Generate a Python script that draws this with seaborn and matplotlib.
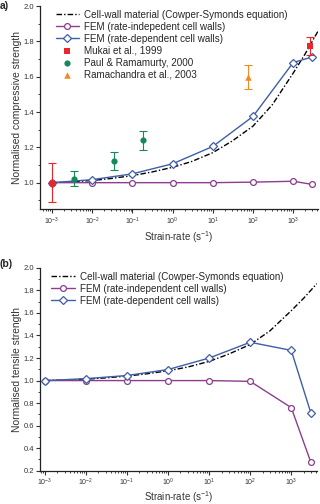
import numpy as np
import pandas as pd
import seaborn as sns
import matplotlib
matplotlib.use("Agg")
from matplotlib import pyplot as plt
from matplotlib.ticker import LogLocator, MultipleLocator, NullFormatter

# strain rates of the FEM runs
fem_rate = [1e-3, 1e-2, 1e-1, 1e0, 1e1, 1e2, 1e3, 3e3]

# (a) compression
comp_indep = [1.0, 1.0, 1.0, 1.0, 1.0, 1.003, 1.008, 0.99]
comp_dep = [1.0, 1.017, 1.05, 1.107, 1.205, 1.375, 1.68, 1.712]

# (b) tension
tens_indep = [1.0, 1.0, 1.0, 1.0, 1.0, 0.993, 0.76, 0.275]
tens_dep = [1.0, 1.017, 1.045, 1.098, 1.2, 1.34, 1.268, 0.713]

# Cowper-Symonds curve
cs_rate = [1e-3, 3e-3, 1e-2, 3e-2, 1e-1, 3e-1, 1e0, 3e0, 1e1, 3e1, 1e2, 3e2, 1e3, 2e3, 4.2e3]
cs_val = [1.0, 1.005, 1.012, 1.024, 1.04, 1.06, 1.087, 1.12, 1.17, 1.235, 1.32, 1.44, 1.62, 1.73, 1.86]

# experiments (compression only)
mukai_rate = [2.7e3]
mukai_val = [1.775]
mukai_err = [0.05]
mukai_qs_rate = [1e-3]
mukai_qs_val = [1.0]
mukai_qs_err = [0.11]
paul_rate = [3.5e-3, 3.5e-2, 1.8e-1]
paul_val = [1.022, 1.122, 1.24]
paul_err = [0.042, 0.053, 0.055]
rama_rate = [75]
rama_val = [1.60]
rama_err = [0.068]

PURPLE = "#8c3d8e"
BLUE = "#3f5ea8"
RED = "#e8262b"
GREEN = "#14895a"
ORANGE = "#f08a24"

sns.set_theme(style="ticks")
plt.rcParams["font.family"] = ["Liberation Sans", "DejaVu Sans"]
plt.rcParams["mathtext.fontset"] = "custom"
plt.rcParams["mathtext.rm"] = "Liberation Sans"

fig = plt.figure(figsize=(3.2, 5.04), dpi=100)
ax1 = fig.add_axes([0.125, 0.585, 0.869, 0.403])
ax2 = fig.add_axes([0.125, 0.066, 0.866, 0.4025])


def style_axis(ax, ylim, xlim, major):
    ax.set_xscale("log")
    ax.set_xlim(*xlim)
    ax.set_ylim(*ylim)
    ax.xaxis.set_minor_locator(LogLocator(base=10, subs=np.arange(2, 10), numticks=20))
    ax.xaxis.set_minor_formatter(NullFormatter())
    ax.set_xticks([1e-3, 1e-2, 1e-1, 1e0, 1e1, 1e2, 1e3])
    ax.set_xticklabels([r"$10^{-3}$", r"$10^{-2}$", r"$10^{-1}$", r"$10^{0}$",
                        r"$10^{1}$", r"$10^{2}$", r"$10^{3}$"])
    ax.yaxis.set_major_locator(MultipleLocator(major))
    ax.yaxis.set_minor_locator(MultipleLocator(major / 2))
    ax.tick_params(axis="both", which="major", direction="out", length=3, width=0.8,
                   labelsize=5.5, pad=1.5, colors="#333333")
    ax.tick_params(axis="x", which="major", labelsize=5)
    ax.tick_params(axis="both", which="minor", direction="out", length=1.6, width=0.6)
    for s in ["left", "bottom"]:
        ax.spines[s].set_linewidth(0.9)
        ax.spines[s].set_color("#222222")
    sns.despine(ax=ax)
    ax.set_xlabel("Strain-rate (s$^{-1}$)", fontsize=7, labelpad=2, color="#333333")


def fem_lines(ax, indep, dep, indep_label):
    df = pd.DataFrame({"rate": fem_rate + fem_rate,
                       "val": indep + dep,
                       "model": ["indep"] * len(indep) + ["dep"] * len(dep)})
    sns.lineplot(data=df[df.model == "indep"], x="rate", y="val", ax=ax, color=PURPLE,
                 lw=1.0, marker="o", markersize=4.2, markerfacecolor="white",
                 markeredgecolor=PURPLE, markeredgewidth=0.9, label=indep_label)
    sns.lineplot(data=df[df.model == "dep"], x="rate", y="val", ax=ax, color=BLUE,
                 lw=1.0, marker="D", markersize=3.6, markerfacecolor="white",
                 markeredgecolor=BLUE, markeredgewidth=0.9,
                 label="FEM (rate-dependent cell walls)")


def cs_line(ax):
    sns.lineplot(x=cs_rate, y=cs_val, ax=ax, color="black", lw=1.0,
                 linestyle=(0, (4, 1.5, 1, 1.5)),
                 label="Cell-wall material (Cowper-Symonds equation)")


# ---- (a) ----
cs_line(ax1)
fem_lines(ax1, comp_indep, comp_dep, "FEM (rate-indepedent cell walls)")
ax1.errorbar(mukai_qs_rate, mukai_qs_val, yerr=mukai_qs_err, fmt="o", color=RED,
             ms=4.4, capsize=3, elinewidth=0.8, capthick=0.8, zorder=5)
ax1.errorbar(mukai_rate, mukai_val, yerr=mukai_err, fmt="none", ecolor=RED,
             capsize=3, elinewidth=0.8, capthick=0.8, zorder=5)
ax1.errorbar(paul_rate, paul_val, yerr=paul_err, fmt="none", ecolor=GREEN,
             capsize=3, elinewidth=0.8, capthick=0.8, zorder=5)
ax1.errorbar(rama_rate, rama_val, yerr=rama_err, fmt="none", ecolor=ORANGE,
             capsize=3, elinewidth=0.8, capthick=0.8, zorder=5)
sns.scatterplot(x=mukai_rate, y=mukai_val, ax=ax1, color=RED, marker="s", s=18,
                linewidth=0, zorder=6, label="Mukai et al., 1999")
sns.scatterplot(x=paul_rate, y=paul_val, ax=ax1, color=GREEN, marker="o", s=20,
                linewidth=0, zorder=6, label="Paul & Ramamurty, 2000")
sns.scatterplot(x=rama_rate, y=rama_val, ax=ax1, color=ORANGE, marker="^", s=22,
                linewidth=0, zorder=6, label="Ramachandra et al., 2003")
style_axis(ax1, (0.85, 2.0), (10 ** -3.3, 10 ** 3.62), 0.2)
ax1.set_ylabel("Normalised compressive strength", fontsize=7.4, labelpad=1, color="#333333")
ax1.legend(loc="upper left", bbox_to_anchor=(0.035, 1.01), frameon=False, fontsize=7.1,
           handlelength=2.4, handletextpad=0.5, labelspacing=0.2, borderaxespad=0.2)
fig.text(0.0, 0.998, "a)", fontsize=7.5, fontweight="bold", va="top")

# ---- (b) ----
cs_line(ax2)
fem_lines(ax2, tens_indep, tens_dep, "FEM (rate-independent cell walls)")
style_axis(ax2, (0.2, 2.0), (10 ** -3.12, 10 ** 3.63), 0.2)
ax2.set_ylabel("Normalised tensile strength", fontsize=7.4, labelpad=1, color="#333333")
ax2.xaxis.labelpad = 1
ax2.legend(loc="upper left", bbox_to_anchor=(0.02, 1.01), frameon=False, fontsize=7.1,
           handlelength=2.4, handletextpad=0.5, labelspacing=0.2, borderaxespad=0.2)
fig.text(0.0, 0.487, "(b)", fontsize=7.5, fontweight="bold", va="top")

fig.savefig("out.png", dpi=100)
plt.close(fig)
